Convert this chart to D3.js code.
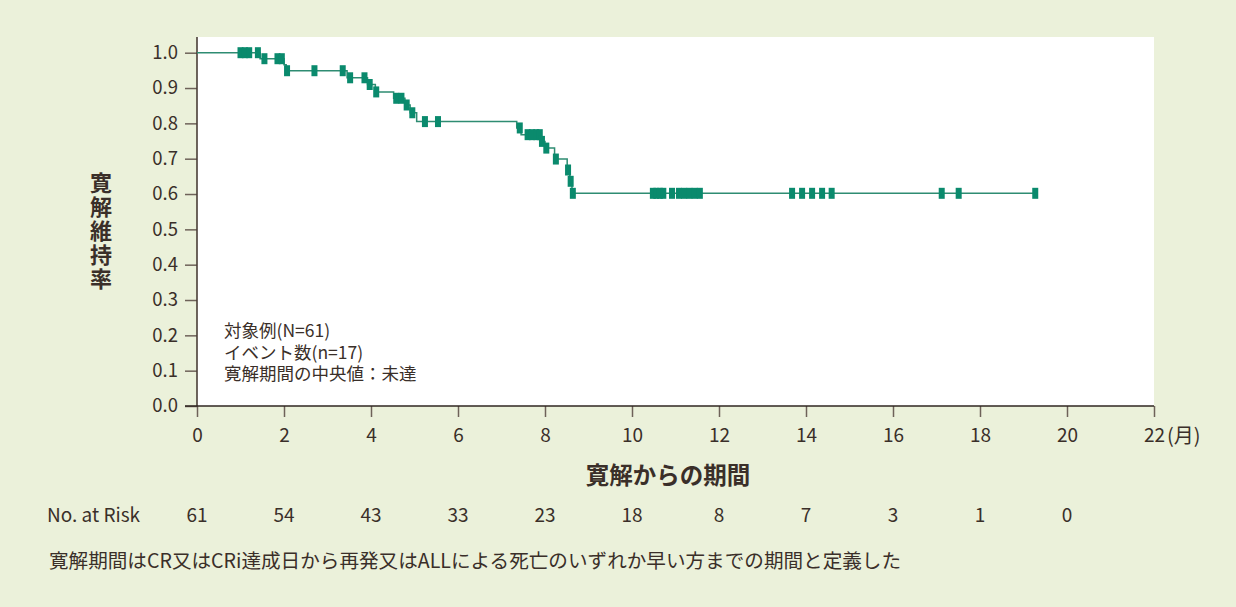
<!DOCTYPE html>
<html>
<head>
<meta charset="utf-8">
<script src="https://cdn.jsdelivr.net/npm/d3@7"></script>
<style>
  body { margin: 0; background: #ebf1da; }
  svg { display: block; font-family: "Noto Sans CJK JP", "Noto Sans", sans-serif; }
</style>
</head>
<body>
<div id="vis"></div>
<script>
const FRAME_WIDTH = 1236;
const FRAME_HEIGHT = 607;
const MARGINS = {left: 197, right: 82, top: 37, bottom: 201};

// KM step points: time (months) and remission rate after the step
const stepTimes  = [0, 1.45, 2.0, 2.05, 3.45, 3.92, 4.1, 4.52, 4.78, 4.9, 5.05, 7.35, 7.45, 7.9, 8.0, 8.22, 8.51, 8.57, 8.62];
const stepValues = [1.0, 0.983, 0.966, 0.949, 0.929, 0.910, 0.889, 0.871, 0.852, 0.830, 0.805, 0.787, 0.768, 0.749, 0.730, 0.699, 0.668, 0.636, 0.602];

// censored observations (months)
const censorTimes = [1.0, 1.1, 1.2, 1.4, 1.55, 1.85, 1.95, 2.07, 2.7,
  3.35, 3.52, 3.85, 3.97, 4.12, 4.58, 4.7, 4.82, 4.95, 5.24, 5.54,
  7.42, 7.6, 7.7, 7.8, 7.88, 7.93, 8.03, 8.25, 8.53, 8.59, 8.64,
  10.48, 10.56, 10.64, 10.72, 10.92, 11.08, 11.2, 11.32, 11.44, 11.56,
  13.68, 13.91, 14.14, 14.37, 14.59, 17.12, 17.51, 19.27];

const xTicks = [0, 2, 4, 6, 8, 10, 12, 14, 16, 18, 20, 22];
const yTicks = [0, 0.1, 0.2, 0.3, 0.4, 0.5, 0.6, 0.7, 0.8, 0.9, 1.0];
const atRisk = [61, 54, 43, 33, 23, 18, 8, 7, 3, 1, 0];

const legendLines = ['対象例(N=61)', 'イベント数(n=17)', '寛解期間の中央値：未達'];

const TEXT = '#3a2f29';
const TEAL = '#0a8a6d';

const svg = d3.select('#vis')
  .append('svg')
    .attr('width', FRAME_WIDTH)
    .attr('height', FRAME_HEIGHT);

const X_SCALE = d3.scaleLinear()
  .domain([0, 22])
  .range([MARGINS.left, FRAME_WIDTH - MARGINS.right]);

const Y_SCALE = d3.scaleLinear()
  .domain([0, 1])
  .range([FRAME_HEIGHT - MARGINS.bottom, 52.7]);

const Y0 = Y_SCALE(0);

// white plot area
svg.append('rect')
  .attr('x', X_SCALE(0))
  .attr('y', MARGINS.top)
  .attr('width', X_SCALE(22) - X_SCALE(0))
  .attr('height', Y0 - MARGINS.top)
  .attr('fill', '#ffffff');

// y axis
const yAxis = svg.append('g')
  .attr('transform', 'translate(' + X_SCALE(0) + ',0)')
  .call(d3.axisLeft(Y_SCALE).tickValues(yTicks).tickFormat(d3.format('.1f'))
    .tickSize(12).tickPadding(7));
yAxis.select('.domain').remove();
yAxis.selectAll('line').attr('stroke', '#6e6259').attr('stroke-width', 1.5);
yAxis.selectAll('text').attr('font-size', '18.5px').attr('fill', TEXT)
  .attr('font-family', '"Noto Sans CJK JP", sans-serif');

// x axis
const xAxis = svg.append('g')
  .attr('transform', 'translate(0,' + Y0 + ')')
  .call(d3.axisBottom(X_SCALE).tickValues(xTicks).tickSize(11).tickPadding(12));
xAxis.select('.domain').remove();
xAxis.selectAll('line').attr('stroke', '#6e6259').attr('stroke-width', 1.5);
xAxis.selectAll('text').attr('font-size', '19px').attr('fill', TEXT)
  .attr('font-family', '"Noto Sans CJK JP", sans-serif');

// axis lines
svg.append('line')
  .attr('x1', X_SCALE(0)).attr('x2', X_SCALE(0))
  .attr('y1', MARGINS.top).attr('y2', Y0)
  .attr('stroke', '#4a3e36').attr('stroke-width', 1.6);
svg.append('line')
  .attr('x1', X_SCALE(0) - 12).attr('x2', X_SCALE(22))
  .attr('y1', Y0).attr('y2', Y0)
  .attr('stroke', '#2f2621').attr('stroke-width', 1.6);

// unit label next to 22
svg.append('text')
  .attr('x', X_SCALE(22) + 13)
  .attr('y', 443)
  .attr('font-size', '20px')
  .attr('fill', TEXT)
  .text('(月)');

// KM curve
const lastTime = d3.max(censorTimes);
const curvePts = stepTimes.map((t, i) => [t, stepValues[i]]);
curvePts.push([lastTime, stepValues[stepValues.length - 1]]);

const line = d3.line()
  .x(d => X_SCALE(d[0]))
  .y(d => Y_SCALE(d[1]))
  .curve(d3.curveStepAfter);

svg.append('path')
  .datum(curvePts)
  .attr('d', line)
  .attr('fill', 'none')
  .attr('stroke', '#2e8c72')
  .attr('stroke-width', 1.5);

// value of the curve at time t
const valueAt = t => stepValues[d3.bisectRight(stepTimes, t) - 1];

svg.append('g')
  .selectAll('rect')
  .data(censorTimes)
  .join('rect')
    .attr('x', d => X_SCALE(d) - 3)
    .attr('y', d => Y_SCALE(valueAt(d)) - 5.5)
    .attr('width', 6)
    .attr('height', 11)
    .attr('fill', TEAL);

// legend text block
svg.append('text')
  .attr('font-size', '17.5px')
  .attr('fill', TEXT)
  .selectAll('tspan')
  .data(legendLines)
  .join('tspan')
    .attr('x', 224)
    .attr('y', (d, i) => 337 + i * 21.5)
    .text(d => d);

// y axis title (vertical)
svg.append('text')
  .attr('x', 101)
  .attr('y', 232)
  .attr('text-anchor', 'middle')
  .style('writing-mode', 'vertical-rl')
  .attr('letter-spacing', 2)
  .attr('font-size', '22px')
  .attr('font-weight', 'bold')
  .attr('fill', TEXT)
  .text('寛解維持率');

// x axis title
svg.append('text')
  .attr('x', 668)
  .attr('y', 484)
  .attr('text-anchor', 'middle')
  .attr('font-size', '23.5px')
  .attr('font-weight', 'bold')
  .attr('fill', TEXT)
  .text('寛解からの期間');

// number at risk
svg.append('text')
  .attr('x', 47)
  .attr('y', 522)
  .attr('font-size', '19px')
  .attr('fill', TEXT)
  .text('No. at Risk');

svg.append('g')
  .selectAll('text')
  .data(atRisk)
  .join('text')
    .attr('x', (d, i) => X_SCALE(xTicks[i]))
    .attr('y', 522)
    .attr('text-anchor', 'middle')
    .attr('font-size', '19px')
    .attr('fill', TEXT)
    .text(d => d);

// footnote
svg.append('text')
  .attr('x', 49)
  .attr('y', 568)
  .attr('font-size', '19.6px')
  .attr('fill', TEXT)
  .text('寛解期間はCR又はCRi達成日から再発又はALLによる死亡のいずれか早い方までの期間と定義した');
</script>
</body>
</html>
